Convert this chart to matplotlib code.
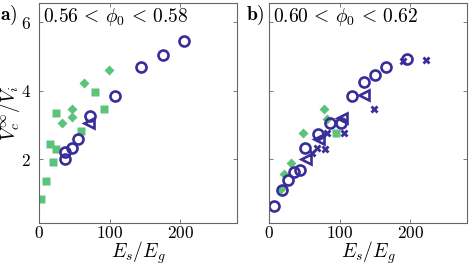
import matplotlib
matplotlib.use("Agg")
import matplotlib.pyplot as plt
from matplotlib.ticker import FuncFormatter

plt.rcParams["mathtext.fontset"] = "cm"
plt.rcParams["font.family"] = "serif"

BLUE = "#3a2d98"
GREEN = "#5cc27c"

# panel a) 0.56 < phi0 < 0.58
a_sq_x = [3, 9, 15, 20, 24, 23, 59, 79, 92]
a_sq_y = [0.83, 1.37, 2.45, 1.91, 2.30, 3.34, 2.83, 3.96, 3.46]
a_dm_x = [32, 46, 46, 64, 99]
a_dm_y = [3.07, 3.47, 3.24, 4.24, 4.60]
a_ci_x = [36, 36, 46, 55, 72, 108, 144, 175, 205]
a_ci_y = [2.00, 2.22, 2.33, 2.59, 3.25, 3.85, 4.69, 5.04, 5.46]
a_tr_x = [71]
a_tr_y = [3.06]

# panel b) 0.60 < phi0 < 0.62
b_sq_x = [94]
b_sq_y = [2.78]
b_dm_x = [16, 21, 31, 48, 77, 82]
b_dm_y = [1.12, 1.57, 1.88, 2.76, 3.47, 3.17]
b_ci_x = [7, 18, 26, 35, 44, 51, 69, 86, 102, 117, 135, 150, 165, 195]
b_ci_y = [0.64, 1.09, 1.39, 1.63, 1.69, 2.34, 2.74, 3.05, 3.07, 3.86, 4.25,
          4.47, 4.69, 4.93]
b_tr_x = [52, 70, 103, 134]
b_tr_y = [2.00, 2.58, 3.20, 3.87]
b_x_x = [60, 67, 79, 82, 106, 149, 189, 222]
b_x_y = [2.18, 2.32, 2.29, 2.78, 2.76, 3.47, 4.87, 4.91]


def draw(ax, sq, dm, ci, tr, xs=None):
    ax.plot(*sq, "s", color=GREEN, ms=5.4, mec="none")
    ax.plot(*dm, "D", color=GREEN, ms=5.4, mec="none")
    ax.plot(*ci, "o", mfc="none", mec=BLUE, ms=7.2, mew=1.9)
    ax.plot(*tr, "<", mfc="none", mec=BLUE, ms=7.0, mew=1.9)
    if xs is not None:
        ax.plot(*xs, "X", color=BLUE, ms=6.0, mec="none")


fig = plt.figure(figsize=(4.69, 2.63), dpi=100)
ax1 = fig.add_axes([0.0838, 0.1532, 0.4209, 0.8354])
ax2 = fig.add_axes([0.5742, 0.1532, 0.4209, 0.8354])

draw(ax1, (a_sq_x, a_sq_y), (a_dm_x, a_dm_y), (a_ci_x, a_ci_y), (a_tr_x, a_tr_y))
draw(ax2, (b_sq_x, b_sq_y), (b_dm_x, b_dm_y), (b_ci_x, b_ci_y), (b_tr_x, b_tr_y),
     (b_x_x, b_x_y))

fmt = FuncFormatter(lambda v, p: "$%d$" % v)
for ax in (ax1, ax2):
    ax.set_xlim(0, 280)
    ax.set_ylim(0.15, 6.56)
    ax.set_xticks([0, 100, 200])
    ax.set_yticks([2, 4, 6])
    ax.xaxis.set_major_formatter(fmt)
    ax.yaxis.set_major_formatter(fmt)
    ax.tick_params(direction="in", top=True, right=True, length=3,
                   width=0.6, color="#666666", labelsize=12.5)
    ax.tick_params(axis="x", pad=2)
    ax.tick_params(axis="y", pad=6)
    for s in ax.spines.values():
        s.set_color("#666666")
        s.set_linewidth(0.8)
    ax.set_xlabel(r"$E_s/E_g$", fontsize=14, labelpad=-2.5)

ax2.tick_params(labelleft=False)
ax1.set_ylabel(r"$V_c^{\infty}/V_i$", fontsize=14, labelpad=-0.5)

ax1.text(0.02, 0.985, r"$0.56\,<\,\phi_0\,<\,0.58$", transform=ax1.transAxes,
         fontsize=14, va="top", ha="left")
ax2.text(0.02, 0.985, r"$0.60\,<\,\phi_0\,<\,0.62$", transform=ax2.transAxes,
         fontsize=14, va="top", ha="left")
fig.text(0.0, 0.94, r"$\mathbf{a)}$", fontsize=14, va="center", ha="left")
fig.text(0.525, 0.94, r"$\mathbf{b)}$", fontsize=14, va="center", ha="left")

fig.savefig("out.png", dpi=100)
